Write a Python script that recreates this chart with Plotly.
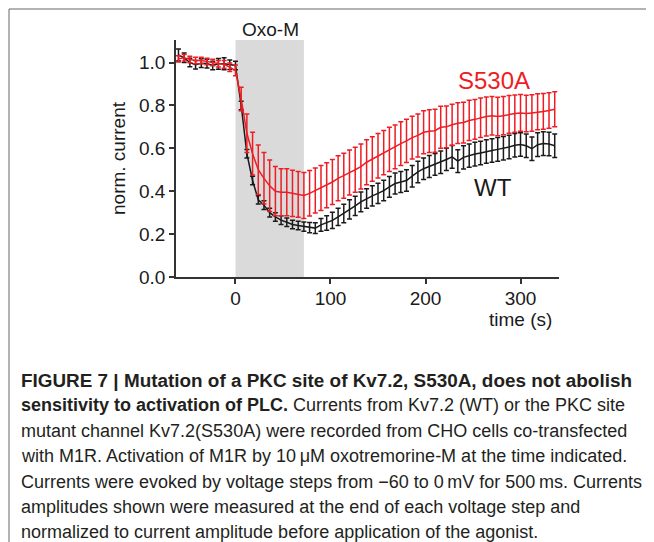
import plotly.graph_objects as go

# ---------------- data ----------------
time_s = [-60 + 6 * k for k in range(67)]

wt_mean = [1.035, 1.022, 1.0, 0.99, 0.997, 0.995, 0.986, 0.994, 0.994, 0.99, 0.986,
           0.80, 0.575, 0.45, 0.36, 0.335, 0.30, 0.28, 0.265, 0.255, 0.245, 0.24,
           0.235, 0.23, 0.228, 0.243, 0.252, 0.264, 0.28, 0.296, 0.315, 0.332, 0.35,
           0.366, 0.378, 0.39, 0.403, 0.42, 0.436, 0.443, 0.45, 0.47, 0.49, 0.505,
           0.515, 0.525, 0.535, 0.548, 0.56, 0.54, 0.558, 0.566, 0.573, 0.578, 0.585,
           0.59, 0.595, 0.60, 0.606, 0.614, 0.618, 0.612, 0.598, 0.617, 0.622, 0.62, 0.612]
wt_err = [0.028, 0.022, 0.02, 0.02, 0.02, 0.02, 0.02, 0.025, 0.028, 0.022, 0.02,
          0.02, 0.02, 0.02, 0.02, 0.02, 0.02, 0.02, 0.02, 0.02, 0.02, 0.02,
          0.022, 0.024, 0.025, 0.03, 0.034, 0.038, 0.04, 0.043, 0.045, 0.045, 0.046,
          0.046, 0.047, 0.047, 0.048, 0.048, 0.049, 0.049, 0.05, 0.05, 0.05, 0.05,
          0.051, 0.051, 0.052, 0.052, 0.053, 0.053, 0.054, 0.054, 0.055, 0.055, 0.055,
          0.055, 0.055, 0.055, 0.055, 0.055, 0.055, 0.055, 0.055, 0.055, 0.055, 0.055, 0.055]

s530a_mean = [1.017, 1.022, 1.014, 1.009, 1.009, 1.005, 1.0, 0.994, 0.991, 0.978, 0.963,
              0.83, 0.67, 0.575, 0.50, 0.46, 0.425, 0.40, 0.395, 0.395, 0.39, 0.385,
              0.38, 0.39, 0.403, 0.415, 0.428, 0.443, 0.46, 0.472, 0.487, 0.50, 0.515,
              0.535, 0.55, 0.565, 0.58, 0.595, 0.607, 0.622, 0.635, 0.65, 0.66, 0.675,
              0.68, 0.682, 0.698, 0.70, 0.71, 0.717, 0.72, 0.73, 0.735, 0.742, 0.748,
              0.752, 0.748, 0.752, 0.758, 0.762, 0.765, 0.762, 0.765, 0.77, 0.772, 0.776, 0.782]
s530a_err = [0.015, 0.015, 0.015, 0.015, 0.015, 0.015, 0.015, 0.015, 0.018, 0.02, 0.025,
             0.055, 0.09, 0.10, 0.115, 0.12, 0.12, 0.115, 0.11, 0.11, 0.108, 0.107,
             0.107, 0.106, 0.105, 0.105, 0.105, 0.105, 0.105, 0.105, 0.105, 0.105, 0.105,
             0.105, 0.104, 0.104, 0.103, 0.103, 0.102, 0.102, 0.101, 0.1, 0.1, 0.1,
             0.1, 0.1, 0.098, 0.097, 0.096, 0.095, 0.095, 0.094, 0.093, 0.092, 0.091,
             0.09, 0.09, 0.089, 0.088, 0.087, 0.086, 0.085, 0.085, 0.084, 0.083, 0.083, 0.082]

oxo_window = [0, 72]
x_ticks = [0, 100, 200, 300]
y_ticks = [0.0, 0.2, 0.4, 0.6, 0.8, 1.0]

caption_lines = [
    "<b>FIGURE 7 | Mutation of a PKC site of Kv7.2, S530A, does not abolish</b>",
    "<b>sensitivity to activation of PLC.</b> Currents from Kv7.2 (WT) or the PKC site",
    "mutant channel Kv7.2(S530A) were recorded from CHO cells co-transfected",
    "with M1R. Activation of M1R by 10\u2009\u03bcM oxotremorine-M at the time indicated.",
    "Currents were evoked by voltage steps from \u221260 to 0\u2009mV for 500\u2009ms. Currents",
    "amplitudes shown were measured at the end of each voltage step and",
    "normalized to current amplitude before application of the agonist.",
]

# ---------------- figure ----------------
W, H = 638, 534   # page body margin (8 px) + figure fills the 654x542 window
OFF = 8           # page body margin offset of the plot div
FONT = "Liberation Sans, Arial, Helvetica, sans-serif"
RED = "#ee1d23"
BLACK = "#1a1a1a"


def px(x):
    return (x - OFF) / W


def py(y):
    return 1 - (y - OFF) / H


fig = go.Figure()

fig.add_trace(go.Scatter(
    x=time_s, y=wt_mean, mode="lines", name="WT",
    line=dict(color=BLACK, width=1.5),
    error_y=dict(type="data", array=wt_err, visible=True, color=BLACK, thickness=1.5, width=2.5),
))
fig.add_trace(go.Scatter(
    x=time_s, y=s530a_mean, mode="lines", name="S530A",
    line=dict(color=RED, width=1.5),
    error_y=dict(type="data", array=s530a_err, visible=True, color=RED, thickness=1.5, width=2.5),
))

fig.add_shape(type="rect", xref="x", yref="y domain", x0=oxo_window[0], x1=oxo_window[1],
              y0=0, y1=1, fillcolor="#dadada", line=dict(width=0), layer="below")

# frame lines around the figure panel
fig.add_shape(type="line", xref="paper", yref="paper", x0=px(9), x1=px(646), y0=py(9), y1=py(9),
              line=dict(color="#666666", width=1))
fig.add_shape(type="line", xref="paper", yref="paper", x0=px(9), x1=px(9), y0=py(9), y1=py(542),
              line=dict(color="#666666", width=1))

annotations = [
    dict(text="Oxo-M", x=px(270), y=py(30), font=dict(size=19, color=BLACK)),
    dict(text="S530A", x=px(494), y=py(80), font=dict(size=24, color=RED)),
    dict(text="WT", x=px(493), y=py(187), font=dict(size=24, color=BLACK)),
    dict(text="time (s)", x=px(554), y=py(319), xanchor="right", font=dict(size=19, color=BLACK)),
    dict(text="norm. current", x=px(118), y=py(158), textangle=-90, font=dict(size=19, color=BLACK)),
]
for a in annotations:
    a.setdefault("xanchor", "center")
    a.update(xref="paper", yref="paper", yanchor="middle", showarrow=False)
    fig.add_annotation(**a)

for i, line in enumerate(caption_lines):
    fig.add_annotation(text=line, xref="paper", yref="paper", x=px(19), y=py(380 + 25.4 * i),
                       xanchor="left", yanchor="middle", showarrow=False,
                       font=dict(size=18 if i else 18.9, color="#231f20", family=FONT))

fig.update_layout(
    width=W, height=H,
    margin=dict(l=0, r=0, t=0, b=0),
    paper_bgcolor="white", plot_bgcolor="white",
    showlegend=False,
    font=dict(family=FONT, color=BLACK),
    xaxis=dict(domain=[px(176), px(559)], range=[-62.6, 340.5], tickvals=x_ticks,
               showline=True, linecolor="#333333", linewidth=1.5, ticks="outside", ticklen=5,
               tickwidth=1.5, tickcolor="#333333", showgrid=False, zeroline=False,
               tickfont=dict(size=19, color=BLACK), automargin=False, ticklabelstandoff=-2),
    yaxis=dict(domain=[py(277), py(40)], range=[0, 1.105], tickvals=y_ticks,
               tickformat=".1f", showline=True, linecolor="#333333", linewidth=1.5,
               ticks="outside", ticklen=5, tickwidth=1.5, tickcolor="#333333",
               showgrid=False, zeroline=False, tickfont=dict(size=19, color=BLACK),
               automargin=False),
)

fig.write_html("out.html")
